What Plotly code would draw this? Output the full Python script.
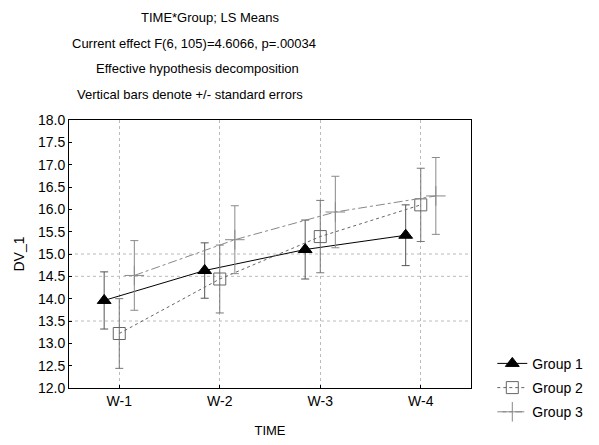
import plotly.graph_objects as go

categories = ["W-1", "W-2", "W-3", "W-4"]
group_names = ["Group 1", "Group 2", "Group 3"]
means = {
    "Group 1": [13.96, 14.63, 15.10, 15.42],
    "Group 2": [13.22, 14.44, 15.39, 16.10],
    "Group 3": [14.52, 15.32, 15.94, 16.30],
}
std_err = {
    "Group 1": [0.64, 0.62, 0.66, 0.68],
    "Group 2": [0.78, 0.76, 0.81, 0.82],
    "Group 3": [0.78, 0.76, 0.80, 0.86],
}
y_ticks = [12.0 + 0.5 * i for i in range(13)]
grid_y = [13.5, 14.5, 15.0]

offsets = {"Group 1": -0.15, "Group 2": 0.0, "Group 3": 0.15}
styles = {
    "Group 1": dict(symbol="triangle-up", color="black", dash="solid", ecolor="#555555",
                    mline=dict(color="black", width=1), msize=12),
    "Group 2": dict(symbol="square-open", color="#666666", dash="dot", ecolor="#777777",
                    mline=dict(color="#555555", width=1), msize=12),
    "Group 3": dict(symbol="cross-thin-open", color="#888888", dash="dashdot", ecolor="#8a8a8a",
                    mline=dict(color="#666666", width=1), msize=14),
}

FONT = "Liberation Sans Narrow, Liberation Sans, Arial, sans-serif"
FONT2 = "Liberation Sans, Arial, sans-serif"

fig = go.Figure()
for g in group_names:
    s = styles[g]
    xs = [i + offsets[g] for i in range(len(categories))]
    fig.add_trace(go.Scatter(
        x=xs, y=means[g], name=g, legendgroup=g, mode="lines+markers",
        line=dict(color=s["color"], width=1, dash=s["dash"]),
        marker=dict(symbol=s["symbol"], size=s["msize"], color=s["color"], line=s["mline"]),
        error_y=dict(type="data", array=std_err[g], visible=True,
                     color=s["ecolor"], thickness=1, width=4),
    ))

shapes = []
for gy in grid_y:
    shapes.append(dict(type="line", xref="paper", yref="y", x0=0, x1=1, y0=gy, y1=gy,
                       line=dict(color="#bbbbbb", width=1, dash="dot"), layer="below"))

titles = [
    ("TIME*Group; LS Means", 17, 0.35),
    ("Current effect F(6, 105)=4.6066, p=.00034", 43, 0.31),
    ("Effective hypothesis decomposition", 69, 0.32),
    ("Vertical bars denote +/- standard errors", 95, 0.30),
]
annotations = []
for text, ypx, xp in titles:
    annotations.append(dict(text=text, xref="paper", yref="paper", x=xp,
                            y=1 + (120 - ypx) / 268, xanchor="center", yanchor="middle",
                            showarrow=False, font=dict(family=FONT, size=13, color="black")))

fig.update_layout(
    width=599, height=445,
    margin=dict(l=69, r=128, t=120, b=57, autoexpand=False),
    paper_bgcolor="white", plot_bgcolor="white",
    showlegend=True,
    legend=dict(x=1.053, y=0.15, xanchor="left", yanchor="top",
                font=dict(family=FONT2, size=14, color="black"),
                bgcolor="rgba(0,0,0,0)", tracegroupgap=3, itemwidth=30),
    shapes=shapes,
    annotations=annotations,
    font=dict(family=FONT2, color="black"),
)
fig.update_xaxes(
    range=[-0.5, 3.5], tickmode="array", tickvals=list(range(len(categories))),
    ticktext=categories, showline=True, linecolor="black", linewidth=1, mirror=True,
    showgrid=True, gridcolor="#bbbbbb", griddash="dot", gridwidth=1,
    ticks="inside", ticklen=3, tickcolor="black", zeroline=False, automargin=False,
    tickfont=dict(family=FONT2, size=14, color="black"),
    title=dict(text="TIME", font=dict(family=FONT2, size=13, color="black"), standoff=18),
)
fig.update_yaxes(
    range=[12.0, 18.0], tickmode="array", tickvals=y_ticks,
    ticktext=[f"{v:.1f}" for v in y_ticks],
    showline=True, linecolor="black", linewidth=1, mirror=True,
    showgrid=False, zeroline=False, ticks="inside", ticklen=3, tickcolor="black",
    automargin=False,
    tickfont=dict(family=FONT2, size=14, color="black"),
    title=dict(text="DV_1", font=dict(family=FONT2, size=14, color="black"), standoff=10),
)

fig.write_html("out.html", config={"displayModeBar": False},
               post_script="document.body.style.margin='0';document.body.style.padding='0';")
